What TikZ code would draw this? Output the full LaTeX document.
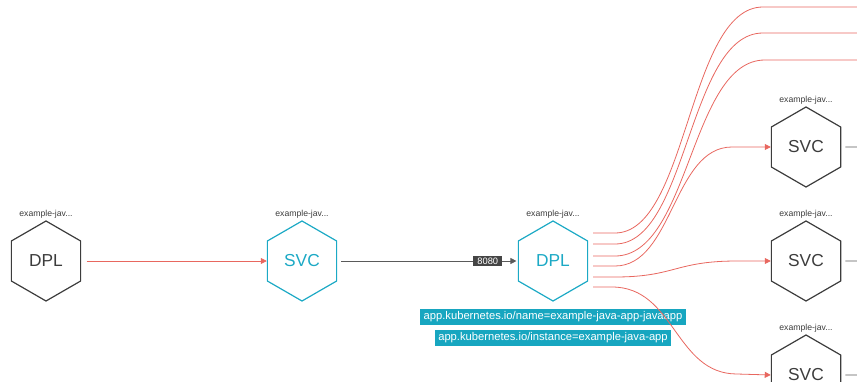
\documentclass[tikz,border=0pt]{standalone}
\usepackage{fontspec}
\setmainfont{Liberation Sans}
\usetikzlibrary{shapes.geometric,arrows.meta}
\definecolor{teal1}{HTML}{1CA9C5}
\definecolor{tealbox}{HTML}{17A6C0}
\definecolor{hexgray}{HTML}{3C3C3C}
\definecolor{linkred}{HTML}{E8675F}
\definecolor{linkgray}{HTML}{5A5A5A}
\definecolor{portbox}{HTML}{454545}
\begin{document}
\begin{tikzpicture}[x=0.75pt,y=-0.75pt,
  hexnode/.style={regular polygon, regular polygon sides=6, shape border rotate=30,
    minimum size=60pt, inner sep=0pt, draw=hexgray, line width=0.9pt,
    font=\fontsize{13}{13}\selectfont, text=hexgray},
  hexsel/.style={hexnode, draw=teal1, text=teal1},
  namelbl/.style={font=\fontsize{6.5}{7}\selectfont, text=hexgray, inner sep=0pt},
  redlink/.style={draw=linkred, line width=0.6pt},
  redarrow/.style={redlink, -{Triangle[length=4.5pt,width=4.5pt]}},
  graylink/.style={draw=linkgray, line width=0.6pt},
  portlbl/.style={fill=portbox, text=white, font=\fontsize{7}{7}\selectfont,
    inner xsep=1.5pt, inner ysep=0pt, minimum height=8pt, minimum width=21.5pt},
  selector/.style={fill=tealbox, text=white, font=\fontsize{8.4}{9}\selectfont,
    inner xsep=2.5pt, inner ysep=0pt, minimum height=12pt}
]
\useasboundingbox (0,0) rectangle (857,382);

% hexagons
\node[hexnode] (dplA) at (46,261) {DPL};
\node[hexsel]  (svcB) at (302,261) {SVC};
\node[hexsel]  (dplC) at (553,261) {DPL};
\node[hexnode] (svcD) at (806,147) {SVC};
\node[hexnode] (svcE) at (806,261) {SVC};
\node[hexnode] (svcF) at (806,375) {SVC};

% name labels
\node[namelbl] (lA) at (46,214) {example-jav...};
\node[namelbl] (lB) at (302,214) {example-jav...};
\node[namelbl] (lC) at (553,214) {example-jav...};
\node[namelbl] (lD) at (806,100) {example-jav...};
\node[namelbl] (lE) at (806,214) {example-jav...};
\node[namelbl] (lF) at (806,328) {example-jav...};

% selector labels
\node[selector] (sel1) at (553,317) {app.kubernetes.io/name=example-java-app-javaapp};
\node[selector] (sel2) at (553,338) {app.kubernetes.io/instance=example-java-app};

% DPL -> SVC
\draw[redarrow] ([xshift=4pt]dplA.east) -- (svcB.west);

% SVC -> DPL with port
\draw[graylink, -{Triangle[length=4.5pt,width=4.5pt]}, shorten >=1pt] ([xshift=3pt]svcB.east) -- (dplC.west)
  node[portlbl, pos=0.83] (port) {8080};

% outgoing red links
\coordinate (o1) at (593,233);
\coordinate (o2) at (593,244);
\coordinate (o3) at (593,256);
\coordinate (o4) at (593,266);
\coordinate (o5) at (593,277);
\coordinate (o6) at (593,287);
\coordinate (t1) at (857,7);
\coordinate (t2) at (857,33);
\coordinate (t3) at (857,60);

\draw[redlink] (o1) -- (615,233) .. controls (688,233) and (688,7) .. (763,7) -- (t1);
\draw[redlink] (o2) -- (615,244) .. controls (688,244) and (688,33) .. (763,33) -- (t2);
\draw[redlink] (o3) -- (615,256) .. controls (690,256) and (690,60) .. (765,60) -- (t3);
\draw[redarrow] (o4) -- (615,266) .. controls (673,266) and (673,147) .. (732,147) -- (svcD.west);
\draw[redarrow] (o5) -- (615,277) .. controls (675,277) and (675,261) .. (737,261) -- (svcE.west);
\draw[redarrow] (o6) -- (612,287) .. controls (675,287) and (675,374) .. (737,374) -- (svcF.west);

% gray stubs on right
\coordinate (sD) at (857,147);
\coordinate (sE) at (857,261);
\coordinate (sF) at (857,375);
\draw[graylink] ([xshift=3pt]svcD.east) -- (sD);
\draw[graylink] ([xshift=3pt]svcE.east) -- (sE);
\draw[graylink] ([xshift=3pt]svcF.east) -- (sF);
\end{tikzpicture}
\end{document}
